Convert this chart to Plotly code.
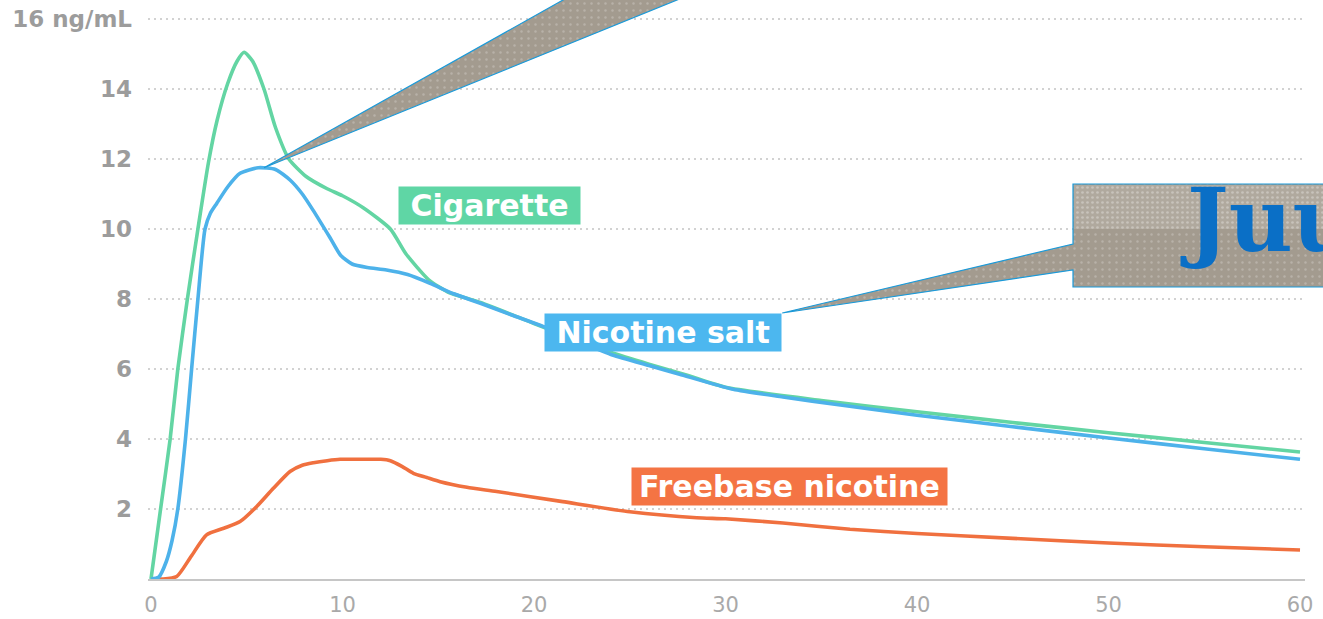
import plotly.graph_objects as go

# Blood nicotine concentration (ng/mL) over minutes after use
cig_t = [0, 0.5, 1.0, 1.4, 1.9, 2.45, 3.0, 3.45, 4.0, 4.5, 4.86, 5.3, 5.9, 6.5, 7.2,
         8.1, 9.2, 10.0, 11.1, 12.5, 13.3, 14.5, 15.5, 17.2, 20, 22, 24, 26, 28, 30,
         35, 40, 45, 50, 55, 60]
cig_v = [0, 2.0, 4.0, 6.0, 8.0, 10.0, 11.9, 13.1, 14.15, 14.8, 15.05, 14.8, 14.0, 12.9, 12.0,
         11.5, 11.15, 10.95, 10.6, 10.0, 9.3, 8.55, 8.2, 7.9, 7.3, 6.88, 6.48, 6.14, 5.82, 5.48,
         5.1, 4.78, 4.47, 4.18, 3.9, 3.63]

salt_t = [0, 0.4, 0.8, 1.1, 1.4, 1.8, 2.12, 2.45, 2.82, 3.1, 3.43, 4.0, 4.65, 5.6, 6.5,
          7.26, 7.9, 8.46, 9.35, 9.9, 10.5, 11.3, 12.3, 13.4, 14.57, 15.8, 17.2, 18.8, 20.5,
          22.3, 24.1, 26, 27.6, 30.4, 33, 36, 40, 45, 50, 55, 60]
salt_v = [0, 0.05, 0.5, 1.1, 2.0, 4.0, 6.0, 8.0, 10.0, 10.45, 10.73, 11.2, 11.59, 11.75, 11.7,
          11.4, 11.0, 10.54, 9.75, 9.25, 9.0, 8.9, 8.83, 8.7, 8.45, 8.15, 7.88, 7.55, 7.21,
          6.8, 6.4, 6.1, 5.85, 5.42, 5.2, 4.97, 4.68, 4.35, 4.03, 3.72, 3.42]

free_t = [0, 0.6, 1.34, 2.1, 2.9, 3.8, 4.65, 5.52, 6.39, 7.26, 7.9, 8.48, 9.2, 9.87, 11.0,
          12.0, 12.5, 13.1, 13.7, 14.4, 15.1, 16.5, 18.05, 21.5, 25, 28.5, 30, 33, 36.5, 40,
          45, 50, 55, 60]
free_v = [0, 0.0, 0.07, 0.65, 1.26, 1.45, 1.64, 2.07, 2.59, 3.07, 3.25, 3.32, 3.38, 3.42, 3.42,
          3.42, 3.38, 3.22, 3.02, 2.9, 2.78, 2.62, 2.5, 2.21, 1.92, 1.75, 1.72, 1.6, 1.42, 1.3,
          1.16, 1.03, 0.92, 0.83]

y_ticks = [2, 4, 6, 8, 10, 12, 14, 16]
y_tick_text = ["2", "4", "6", "8", "10", "12", "14", "16 ng/mL"]
x_ticks = [0, 10, 20, 30, 40, 50, 60]

W, H = 1323, 619
GREEN, BLUE, ORANGE = "#63d5a3", "#4db2ea", "#f0703f"
GREEN_BOX, BLUE_BOX, ORANGE_BOX = "#5fd6a5", "#4cb7ef", "#f47444"
CALLOUT_FILL, CALLOUT_EDGE = "#a39b8f", "#1b9ad9"

# plot area in pixels (y range runs a little past 16 so its grid line shows)
PX_L, PX_R = 148, 1305
X_RANGE = [-0.157, 60.26]
Y_RANGE = [0, 16.3]
PX_B = 579
PX_PER_Y = 35.0
PX_T = PX_B - (Y_RANGE[1] - Y_RANGE[0]) * PX_PER_Y


def to_px(x, y):
    px = PX_L + (x - X_RANGE[0]) / (X_RANGE[1] - X_RANGE[0]) * (PX_R - PX_L)
    py = PX_B - (y - Y_RANGE[0]) * PX_PER_Y
    return px, py


fig = go.Figure()

line_style = dict(width=3.6, shape="spline", smoothing=0.6)
fig.add_trace(go.Scatter(x=free_t, y=free_v, mode="lines", name="Freebase nicotine",
                         line=dict(color=ORANGE, **line_style), hoverinfo="skip"))
fig.add_trace(go.Scatter(x=cig_t, y=cig_v, mode="lines", name="Cigarette",
                         line=dict(color=GREEN, **line_style), hoverinfo="skip"))
fig.add_trace(go.Scatter(x=salt_t, y=salt_v, mode="lines", name="Nicotine salt",
                         line=dict(color=BLUE, **line_style), hoverinfo="skip"))

label_font = dict(family="DejaVu Sans", size=30, color="white", weight="bold")
NB, THIN = "\u00a0", "\u2009"

# series labels
fig.add_annotation(x=17.66, y=10.66, xref="x", yref="y", text=NB + "Cigarette" + NB,
                   showarrow=False, bgcolor=GREEN_BOX, borderpad=1, font=label_font)
salt_corner = (32.96, 7.6)
fig.add_annotation(x=salt_corner[0], y=salt_corner[1], xref="x", yref="y",
                   text=NB + "Nicotine salt" + NB, xanchor="right", yanchor="top",
                   showarrow=False, bgcolor=BLUE_BOX, borderpad=1, font=label_font)
fig.add_annotation(x=33.32, y=2.63, xref="x", yref="y",
                   text=THIN + "Freebase nicotine" + THIN,
                   showarrow=False, bgcolor=ORANGE_BOX, borderpad=1, font=label_font)

# callout overlays in a full-page pixel space
pattern = dict(shape=".", fgcolor="rgba(255,255,255,0.45)", size=7, solidity=0.1)

peak_i = salt_v.index(max(salt_v))
tip1 = to_px(salt_t[peak_i] + 0.3, salt_v[peak_i])
wedge_top = [(563, 0), (677, 0)]


def extend(p, tip, dy=-12):
    # continue the edge from tip through p up to y = dy
    t = (dy - tip[1]) / (p[1] - tip[1])
    return (tip[0] + (p[0] - tip[0]) * t, dy)


a = extend(wedge_top[0], tip1)
b = extend(wedge_top[1], tip1)
wx = [tip1[0], a[0], b[0], tip1[0]]
wy = [tip1[1], a[1], b[1], tip1[1]]
fig.add_trace(go.Scatter(x=wx, y=wy, xaxis="x2", yaxis="y2", mode="lines", fill="toself",
                         fillcolor=CALLOUT_FILL, fillpattern=pattern,
                         line=dict(color=CALLOUT_EDGE, width=1.2), hoverinfo="skip"))

tip2 = to_px(*salt_corner)
BX0, BY0, BY1 = 1073, 184, 287
bx = [tip2[0], BX0, BX0, 1340, 1340, BX0, BX0, tip2[0]]
by = [tip2[1], 270, BY1, BY1, BY0, BY0, 244, tip2[1]]
fig.add_trace(go.Scatter(x=bx, y=by, xaxis="x2", yaxis="y2", mode="lines", fill="toself",
                         fillcolor=CALLOUT_FILL, fillpattern=pattern,
                         line=dict(color=CALLOUT_EDGE, width=1.2), hoverinfo="skip"))
# lighter worn band across the top of the box
fig.add_trace(go.Scatter(x=[BX0 + 1, 1340, 1340, BX0 + 1, BX0 + 1],
                         y=[BY0 + 1, BY0 + 1, 229, 229, BY0 + 1],
                         xaxis="x2", yaxis="y2", mode="lines", fill="toself",
                         fillcolor="#b0a99e",
                         fillpattern=dict(shape=".", fgcolor="rgba(255,255,255,0.6)",
                                          size=5, solidity=0.22),
                         line=dict(width=0), hoverinfo="skip"))

fig.add_annotation(x=1178, y=274, xref="x2", yref="y2", text="Juul", showarrow=False,
                   xanchor="left", yanchor="bottom",
                   font=dict(family="DejaVu Serif", size=88, color="#0a6fc6", weight="bold"))

fig.update_layout(
    width=W, height=H,
    margin=dict(l=0, r=0, t=0, b=0, autoexpand=False),
    paper_bgcolor="white", plot_bgcolor="rgba(0,0,0,0)",
    showlegend=False,
    xaxis=dict(domain=[PX_L / W, PX_R / W], range=X_RANGE, tickvals=x_ticks,
               showgrid=False, zeroline=False, showline=True, linecolor="#c6c6c6",
               linewidth=2, ticks="", ticklabelstandoff=6, automargin=False,
               tickfont=dict(family="DejaVu Sans", size=21, color="#a9a9a9")),
    yaxis=dict(domain=[(H - PX_B) / H, (H - PX_T) / H], range=Y_RANGE, tickvals=y_ticks,
               ticktext=y_tick_text, showgrid=True, gridcolor="#d2d2d2", gridwidth=2,
               griddash="2px,4px", zeroline=False, ticks="", ticklabelstandoff=15,
               automargin=False,
               tickfont=dict(family="DejaVu Sans", size=23, color="#9c9c9c", weight="bold")),
    xaxis2=dict(domain=[0, 1], range=[0, W], anchor="y2", visible=False, fixedrange=True,
                automargin=False),
    yaxis2=dict(domain=[0, 1], range=[H, 0], anchor="x2", visible=False, fixedrange=True,
                automargin=False),
)

fig.write_html("out.html")
